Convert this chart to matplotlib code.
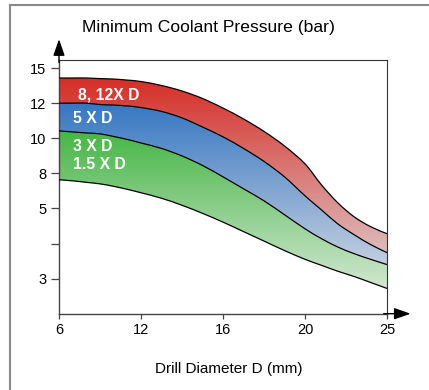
import numpy as np
import matplotlib
matplotlib.use("Agg")
import matplotlib.pyplot as plt
from matplotlib.colors import to_rgb
from matplotlib.lines import Line2D
from matplotlib.path import Path
from matplotlib.patches import PathPatch
from matplotlib.transforms import Affine2D

plt.rcParams['font.family'] = ['Liberation Sans', 'DejaVu Sans']

# drill diameter (mm) and pressure boundaries (bar)
diameter = [6, 7, 8, 9, 10, 11, 12, 13, 14, 15, 16, 17, 18, 19, 20, 21, 22, 23, 24, 25]
red_top = [14.15, 14.15, 14.15, 14.10, 14.06, 13.97, 13.85, 13.51, 13.04, 12.40,
           11.72, 11.10, 10.39, 9.56, 8.54, 7.02, 5.48, 4.76, 4.48, 4.28]
red_blue = [12.0, 12.0, 12.0, 11.92, 11.89, 11.84, 11.75, 11.53, 11.16, 10.64,
            10.08, 9.42, 8.68, 7.70, 6.08, 4.96, 4.56, 4.25, 3.97, 3.74]
blue_green = [10.42, 10.36, 10.30, 10.25, 10.10, 9.93, 9.73, 9.42, 8.99, 8.45,
              7.70, 6.68, 5.65, 4.82, 4.42, 4.14, 3.90, 3.71, 3.55, 3.40]
green_bottom = [7.45, 7.36, 7.23, 7.10, 6.89, 6.63, 6.34, 5.87, 5.27, 4.86,
                4.61, 4.34, 4.07, 3.80, 3.55, 3.38, 3.21, 3.06, 2.89, 2.72]

x_ticks = [6, 12, 16, 20, 25]
y_ticks = [3, 4, 5, 8, 10, 12, 15]
y_tick_labels = ['3', '', '5', '8', '10', '12', '15']

band_labels = ["8, 12X D", "5 X D", "3 X D", "1.5 X D"]
label_x = [7.39, 7.02, 7.02, 7.02]
label_y = [12.7, 11.1, 9.52, 8.48]

# the chart puts its ticks at equal spacing, so map values onto tick positions
xs_val = [0, 6, 12, 16, 20, 25, 40]
xs_pos = [-1, 0, 1, 2, 3, 4, 7]
ys_val = [0, 3, 4, 5, 8, 10, 12, 15, 25]
ys_pos = [-3, 0, 1, 2, 3, 4, 5, 6, 8]

def x_fwd(v): return np.interp(v, xs_val, xs_pos)
def x_inv(p): return np.interp(p, xs_pos, xs_val)
def y_fwd(v): return np.interp(v, ys_val, ys_pos)
def y_inv(p): return np.interp(p, ys_pos, ys_val)

xlim = (6, 25)
ylim = (2.0, 16.15)

fig = plt.figure(figsize=(4.29, 3.90), dpi=100)
ax = fig.add_axes([59/429, 1 - 313.7/390, (387 - 59)/429, (313.7 - 60)/390])
ax.set_xscale('function', functions=(x_fwd, x_inv))
ax.set_yscale('function', functions=(y_fwd, y_inv))
ax.set_xlim(*xlim)
ax.set_ylim(*ylim)

# transform from scaled (tick position) space to axes fraction
x0, x1 = x_fwd(xlim[0]), x_fwd(xlim[1])
y0, y1 = y_fwd(ylim[0]), y_fwd(ylim[1])
pos_trans = (Affine2D().translate(-x0, -y0).scale(1 / (x1 - x0), 1 / (y1 - y0))
             + ax.transAxes)

def smooth_segments(px, py):
    # bezier control points through the given points (catmull-rom style)
    pts = np.column_stack([px, py])
    ext = np.vstack([pts[0], pts, pts[-1]])
    verts = []
    for i in range(len(pts) - 1):
        p0, p1, p2, p3 = ext[i], ext[i + 1], ext[i + 2], ext[i + 3]
        verts += [p1 + (p2 - p0) / 6, p2 - (p3 - p1) / 6, p2]
    return verts

def curve_path(values):
    px, py = x_fwd(diameter), y_fwd(values)
    verts = [(px[0], py[0])] + smooth_segments(px, py)
    codes = [Path.MOVETO] + [Path.CURVE4] * (len(verts) - 1)
    return Path(verts, codes)

def band_path(upper, lower):
    px = x_fwd(diameter)
    uy, ly = y_fwd(upper), y_fwd(lower)
    verts = [(px[0], uy[0])] + smooth_segments(px, uy)
    codes = [Path.MOVETO] + [Path.CURVE4] * (len(verts) - 1)
    verts.append((px[-1], ly[-1]))
    codes.append(Path.LINETO)
    back = smooth_segments(px[::-1], ly[::-1])
    verts += back
    codes += [Path.CURVE4] * len(back)
    verts.append((px[0], uy[0]))
    codes.append(Path.CLOSEPOLY)
    return Path(verts, codes)

def gradient_band(upper, lower, c_top, c_bot, f_top, f_bot):
    patch = PathPatch(band_path(upper, lower), transform=pos_trans,
                      facecolor='none', edgecolor='none')
    ax.add_patch(patch)
    f = np.linspace(0, 1, 300)
    t = np.clip((f_top - f) / (f_top - f_bot), 0, 1)[:, None]
    rgb = np.array(to_rgb(c_top)) * (1 - t) + np.array(to_rgb(c_bot)) * t
    im = ax.imshow(rgb[:, None, :], extent=(0, 1, 0, 1), transform=ax.transAxes,
                   origin='lower', aspect='auto', zorder=1)
    im.set_clip_path(patch)

gradient_band(red_top, red_blue, '#d62d26', '#dcbcbc', 0.93, 0.24)
gradient_band(red_blue, blue_green, '#3677c2', '#c4cfe0', 0.83, 0.19)
gradient_band(blue_green, green_bottom, '#47b646', '#d2e7d2', 0.72, 0.10)

for curve in [red_top, red_blue, blue_green, green_bottom]:
    ax.add_patch(PathPatch(curve_path(curve), transform=pos_trans,
                           facecolor='none', edgecolor='black', lw=0.9, zorder=3))

for text, xv, yv in zip(band_labels, label_x, label_y):
    ax.text(xv, yv, text, color='white', fontsize=11.3, fontweight='bold',
            va='center', ha='left', zorder=4)

ax.set_xticks(x_ticks)
ax.set_xticklabels([str(v) for v in x_ticks])
ax.set_yticks(y_ticks)
ax.set_yticklabels(y_tick_labels)
ax.xaxis.set_minor_locator(plt.NullLocator())
ax.yaxis.set_minor_locator(plt.NullLocator())
ax.tick_params(axis='x', direction='out', length=3.5, width=0.9, color='#444',
               pad=3, labelsize=10.5)
ax.tick_params(axis='y', direction='out', length=6, width=0.9, color='#444',
               pad=3, labelsize=10.5)
for side in ['left', 'bottom']:
    ax.spines[side].set_color('#444')
    ax.spines[side].set_linewidth(1.0)
for side in ['top', 'right']:
    ax.spines[side].set_color('#333')
    ax.spines[side].set_linewidth(0.8)

# axis arrows
ax.annotate('', xy=(0, 1.082), xytext=(0, 0.99), xycoords='axes fraction',
            arrowprops=dict(arrowstyle='-|>,head_length=1.0,head_width=0.35',
                            color='black', lw=1.0, shrinkA=0, shrinkB=0))
ax.annotate('', xy=(1.072, 0), xytext=(0.99, 0), xycoords='axes fraction',
            arrowprops=dict(arrowstyle='-|>,head_length=1.0,head_width=0.35',
                            color='black', lw=1.0, shrinkA=0, shrinkB=0))

fig.text(208/429, 1 - 27.5/390, "Minimum Coolant Pressure (bar)", fontsize=12.6,
         ha='center', va='center')
fig.text(229/429, 1 - 369/390, "Drill Diameter D (mm)", fontsize=11,
         ha='center', va='center')

# frame around the chart
fig.add_artist(Line2D([10/429, 1], [1 - 5/390, 1 - 5/390], color='#8a8a8a', lw=1.5))
fig.add_artist(Line2D([10/429, 10/429], [0, 1 - 5/390], color='#8a8a8a', lw=1.5))

fig.savefig('out.png', dpi=100)
